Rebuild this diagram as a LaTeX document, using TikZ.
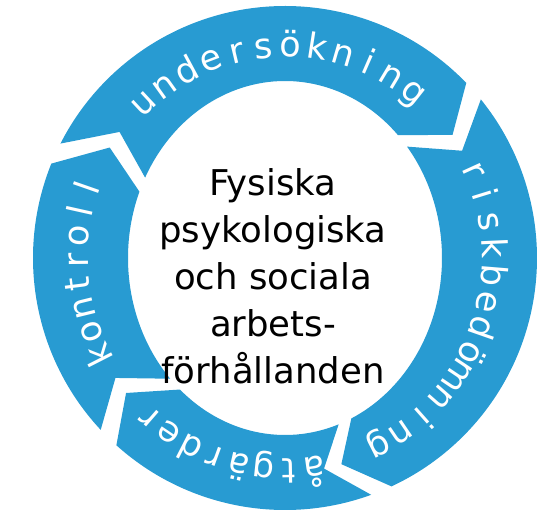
\documentclass[tikz,border=0pt]{standalone}
\usepackage{fontspec}
\setmainfont{DejaVu Sans}
\definecolor{ringblue}{RGB}{40,155,210}

\begin{document}
\begin{tikzpicture}[x=1pt,y=1pt,
    part/.style={fill=ringblue},
    letter/.style={text=white,anchor=base,inner sep=0pt,font=\fontsize{35}{35}\selectfont}]
    \useasboundingbox (-285,-261) rectangle (272,258);
    % the four arrows of the ring
    \foreach \s/\e in {153/44, 39/-65, -70/-132, -137/-202}
      \fill[part] (\s:252) arc[radius=252, start angle=\s, end angle=\e]
        -- ({204.5*cos(\e-9)},{214.5*sin(\e-9)})
        -- ({157*cos(\e)},{177*sin(\e)})
        arc[x radius=157, y radius=177, start angle=\e, end angle=\s]
        -- ({204.5*cos(\s-9)},{214.5*sin(\s-9)}) -- cycle;
    % words on the ring
    \foreach \c [count=\i] in {u,n,d,e,r,s,ö,k,n,i,n,g} {
      \pgfmathsetmacro\a{133-7.4*(\i-1)}
      \node[letter,rotate=\a-90] (u\i) at ({197*cos(\a)},{201*sin(\a)}) {\c};
    }
    \foreach \c [count=\i] in {r,i,s,k,b,e,d,ö,m,n,i,n,g} {
      \pgfmathsetmacro\a{24.5-7.3*(\i-1)}
      \node[letter,rotate=\a-90] (r\i) at ({197*cos(\a)},{201*sin(\a)}) {\c};
    }
    \foreach \c [count=\i] in {å,t,g,ä,r,d,e,r} {
      \pgfmathsetmacro\a{-82-7*(\i-1)}
      \node[letter,rotate=\a-90] (a\i) at ({197*cos(\a)},{201*sin(\a)}) {\c};
    }
    \foreach \c [count=\i] in {k,o,n,t,r,o,l,l} {
      \pgfmathsetmacro\a{207-6.6*(\i-1)}
      \node[letter,rotate=\a-90] (k\i) at ({197*cos(\a)},{201*sin(\a)}) {\c};
    }
    % middle text
    \node[align=center,font=\fontsize{35.5}{47}\selectfont] (centre) at (-12,-18)
      {Fysiska\\psykologiska\\och sociala\\arbets-\\förhållanden};
\end{tikzpicture}
\end{document}
